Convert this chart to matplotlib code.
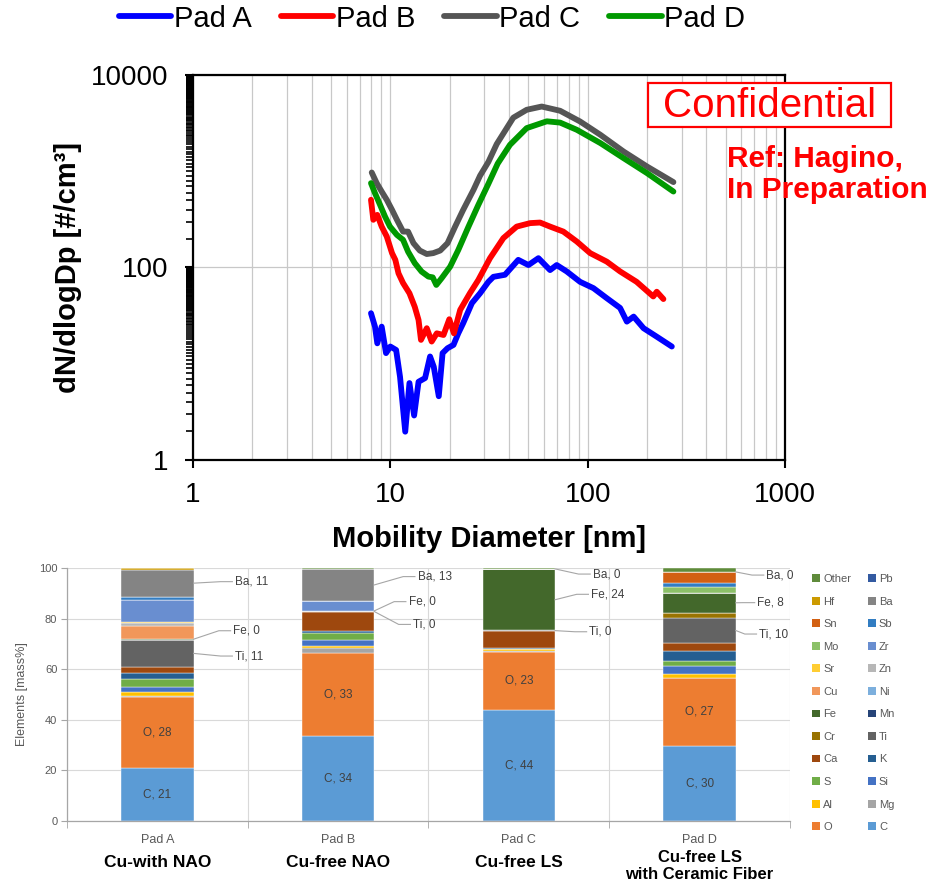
import numpy as np
import matplotlib
matplotlib.use('Agg')
import matplotlib.pyplot as plt
from matplotlib.ticker import FixedLocator, NullFormatter
from matplotlib.patches import Patch, Rectangle

plt.rcParams['font.family'] = ['Liberation Sans', 'DejaVu Sans']

# %% particle size distributions
dp_a = [7.98, 8.36, 8.59, 9.04, 9.51, 10.0, 10.7, 11.2, 11.9, 12.5, 13.2, 13.9, 15.0, 15.9,
        16.6, 17.6, 18.4, 19.5, 20.9, 22.1, 23.4, 25.9, 28.5, 31.4, 33.3, 38.1, 44.5, 50.1,
        56.3, 64.5, 69.7, 78.3, 91.5, 107, 125, 146, 158, 171, 192, 224, 267]
n_a = [33.5, 24.3, 16.3, 24.3, 12.9, 15.1, 13.9, 7.3, 1.97, 6.3, 2.9, 6.5, 7.1, 11.9,
       9.3, 4.6, 12.9, 14.5, 15.7, 20.7, 26.4, 42.6, 54, 71, 80, 84, 120, 106,
       125, 94, 106, 91, 71, 61, 48, 38, 27.4, 30.9, 23.4, 19.1, 15.1]

dp_b = [7.98, 8.20, 8.59, 9.04, 9.59, 10.2, 10.6, 11.0, 11.6, 12.5, 13.3, 13.9, 14.3, 15.3,
        16.2, 17.2, 18.6, 19.9, 21.0, 22.6, 25.3, 27.9, 32.0, 37.4, 43.7, 51.1, 57.4, 64.5,
        75.3, 88.1, 103, 125, 146, 177, 215, 224, 242]
n_b = [505, 313, 352, 266, 210, 141, 120, 87, 69, 54, 39, 28.5, 17.7, 23.4,
       17.0, 20.7, 19.9, 29.0, 20.7, 36.3, 54, 74, 125, 202, 266, 289, 293, 266,
       236, 186, 141, 115, 91, 71, 50, 56, 47]

dp_c = [8.05, 8.53, 9.04, 9.59, 10.2, 10.8, 11.6, 12.3, 13.1, 14.1, 15.3, 16.5, 17.9, 19.5,
        21.3, 23.4, 26.4, 28.5, 31.4, 34.6, 42.0, 49.1, 58.5, 72.5, 91.5, 116, 152, 200, 272]
n_c = [970, 752, 615, 505, 397, 313, 236, 236, 179, 150, 138, 141, 150, 179,
       266, 397, 641, 900, 1250, 1914, 3600, 4347, 4700, 4246, 3288, 2390, 1603, 1119, 771]

dp_d = [7.98, 8.36, 8.87, 9.40, 9.96, 10.8, 11.6, 12.3, 13.3, 14.4, 15.6, 16.4, 17.1, 18.2,
        20.1, 22.1, 24.9, 27.9, 31.4, 35.0, 40.4, 49.1, 62.1, 72.5, 88.1, 116, 152, 200, 272]
n_d = [752, 592, 448, 338, 266, 218, 194, 146, 111, 90.7, 80.4, 79, 65.9, 77.4,
       102, 152, 266, 445, 740, 1200, 1881, 2805, 3300, 3200, 2693, 1960, 1368, 955, 615]

pads = ['Pad A', 'Pad B', 'Pad C', 'Pad D']
line_colors = ['#0000FF', '#FF0000', '#555555', '#009900']

# %% composition data, mass%
elements = ['C', 'O', 'Mg', 'Al', 'Si', 'S', 'K', 'Ca', 'Ti', 'Cr', 'Mn', 'Fe',
            'Ni', 'Cu', 'Zn', 'Sr', 'Zr', 'Mo', 'Sb', 'Sn', 'Ba', 'Hf', 'Pb', 'Other']
comp_a = [21.1, 28.0, 0.5, 1.2, 2.0, 3.2, 2.6, 2.2, 10.9, 0, 0, 0.3,
          0, 5.0, 1.2, 0.5, 8.6, 0, 1.4, 0, 10.6, 0.6, 0, 0.1]
comp_b = [33.6, 32.9, 1.7, 0.9, 2.4, 2.9, 0.7, 7.6, 0.2, 0, 0, 0.3,
          0, 0, 0, 0, 3.7, 0, 0, 0, 12.8, 0, 0, 0.3]
comp_c = [43.9, 23.0, 0.3, 0.6, 0.3, 0, 0.3, 6.8, 0.1, 0, 0, 24.3,
          0, 0, 0, 0, 0, 0, 0, 0, 0.1, 0, 0, 0.3]
comp_d = [29.6, 27.0, 0, 1.7, 2.9, 2.1, 4.0, 3.2, 9.6, 2.2, 0, 7.9,
          0, 0, 0, 0, 0, 2.1, 1.8, 4.3, 0.1, 0, 0, 1.5]
pad_types = ['Cu-with NAO', 'Cu-free NAO', 'Cu-free LS', 'Cu-free LS\nwith Ceramic Fiber']

el_colors = ['#5B9BD5', '#ED7D31', '#A5A5A5', '#FFC000', '#4472C4', '#70AD47',
             '#255E91', '#9E480E', '#636363', '#997300', '#264478', '#43682B',
             '#7CAFDD', '#F1975A', '#B7B7B7', '#FFCD33', '#698ED0', '#8CC168',
             '#327DC2', '#D26012', '#848484', '#CC9A00', '#335AA1', '#5F8B3B']

# %% figure
fig = plt.figure(figsize=(9.41, 8.85), dpi=100)

# top: size distributions
ax1 = fig.add_axes([0.2051, 0.4802, 0.6291, 0.4351])
for dp, n, c, lab in zip([dp_a, dp_b, dp_c, dp_d], [n_a, n_b, n_c, n_d], line_colors, pads):
    ax1.plot(dp, n, color=c, lw=4.2, label=lab, solid_joinstyle='round',
             solid_capstyle='round', zorder=3)
ax1.set_xscale('log')
ax1.set_yscale('log')
ax1.set_xlim(1, 1000)
ax1.set_ylim(1, 10000)
ax1.set_xticks([1, 10, 100, 1000])
ax1.set_xticklabels(['1', '10', '100', '1000'])
ax1.set_yticks([1, 100, 10000])
ax1.set_yticklabels(['1', '100', '10000'])
ax1.yaxis.set_minor_locator(FixedLocator([k * 100.0 ** e for e in (0, 1) for k in range(2, 100)]))
ax1.yaxis.set_minor_formatter(NullFormatter())
ax1.xaxis.set_minor_formatter(NullFormatter())
ax1.grid(axis='x', which='both', color='#C8C8C8', lw=0.9)
ax1.grid(axis='y', which='major', color='#C8C8C8', lw=0.9)
ax1.tick_params(axis='both', which='major', labelsize=20, length=6, width=1.5, direction='out')
ax1.tick_params(axis='x', which='major', pad=10)
ax1.tick_params(axis='y', which='major', pad=12)
ax1.tick_params(axis='y', which='minor', length=5, width=1.2, direction='out')
ax1.tick_params(axis='x', which='minor', length=0)
for s in ax1.spines.values():
    s.set_linewidth(1.6)
ax1.set_ylabel('dN/dlogDp [#/cm³]', fontsize=21, fontweight='bold', labelpad=6)
ax1.set_xlabel('Mobility Diameter [nm]', fontsize=21, fontweight='bold', labelpad=12)

fig.legend(loc='center', bbox_to_anchor=(0.459, 0.979), ncol=4, frameon=False,
           fontsize=21, handlelength=1.8, handletextpad=0.08, columnspacing=1.0,
           borderpad=0)

fig.patches.append(Rectangle((648 / 941, 1 - 127 / 885), 243 / 941, 44 / 885,
                             transform=fig.transFigure, fc='white', ec='red', lw=1.6))
fig.text(769.5 / 941, 1 - 106 / 885, 'Confidential', fontsize=29, color='red',
         ha='center', va='center')
fig.text(727 / 941, 1 - 145 / 885, 'Ref: Hagino,\nIn Preparation', fontsize=21.5,
         fontweight='bold', color='red', ha='left', va='top', linespacing=1.12)

# bottom: element composition
ax2 = fig.add_axes([0.0712, 0.0723, 0.7683, 0.2859])
comp = np.array([comp_a, comp_b, comp_c, comp_d])
x = np.arange(len(pads))
bottom = np.zeros(len(pads))
for j, el in enumerate(elements):
    vals = comp[:, j]
    ax2.bar(x, vals, 0.4, bottom=bottom, color=el_colors[j], edgecolor='white',
            linewidth=0.3, zorder=2)
    if el in ('C', 'O'):
        for i in range(len(pads)):
            ax2.text(x[i], bottom[i] + vals[i] / 2, f'{el}, {round(vals[i])}',
                     ha='center', va='center', fontsize=8.5, color='#404040', zorder=4)
    bottom = bottom + vals

# outside labels with leader lines: (x offset from bar centre, y of label)
call_pos = [
    {'Ba': (0.43, 94.6), 'Fe': (0.42, 75.2), 'Ti': (0.43, 65.2)},
    {'Ba': (0.44, 96.6), 'Fe': (0.39, 86.7), 'Ti': (0.415, 77.7)},
    {'Ba': (0.41, 97.6), 'Fe': (0.40, 89.6), 'Ti': (0.39, 74.8)},
    {'Ba': (0.37, 97.2), 'Fe': (0.32, 86.3), 'Ti': (0.33, 73.9)},
]
cum = np.cumsum(comp, axis=1)
for i in range(len(pads)):
    for el, (dx, ly) in call_pos[i].items():
        j = elements.index(el)
        mid = cum[i, j] - comp[i, j] / 2
        lx = x[i] + dx
        ax2.plot([x[i] + 0.2, lx - 0.08, lx - 0.015], [mid, ly, ly], color='#A6A6A6',
                 lw=0.8, zorder=3, clip_on=False)
        ax2.text(lx, ly, f'{el}, {round(comp[i, j])}', ha='left', va='center',
                 fontsize=8.5, color='#404040', zorder=4)

ax2.set_xlim(-0.5, 3.5)
ax2.set_ylim(0, 100)
ax2.set_yticks(range(0, 101, 20))
ax2.set_xticks(x)
ax2.set_xticklabels(pads)
ax2.set_xticks([-0.5, 0.5, 1.5, 2.5, 3.5], minor=True)
ax2.grid(axis='y', color='#D9D9D9', lw=0.8, zorder=0)
ax2.grid(axis='x', which='minor', color='#D9D9D9', lw=0.8, zorder=0)
ax2.tick_params(axis='x', which='major', length=0, labelsize=9, labelcolor='#595959', pad=9)
ax2.tick_params(axis='x', which='minor', length=5, color='#A6A6A6', direction='out')
ax2.tick_params(axis='y', length=4, color='#A6A6A6', labelsize=8, labelcolor='#595959', pad=3)
for s in ('top', 'right'):
    ax2.spines[s].set_visible(False)
for s in ('left', 'bottom'):
    ax2.spines[s].set_color('#A6A6A6')
    ax2.spines[s].set_linewidth(0.9)
ax2.set_ylabel('Elements [mass%]', fontsize=9, color='#595959', labelpad=8)

for i, t in enumerate(pad_types):
    yy = -0.178 if '\n' in t else -0.162
    fs = 12 if '\n' in t else 12.5
    ax2.text(x[i], yy, t, transform=ax2.get_xaxis_transform(), ha='center', va='center',
             fontsize=fs, fontweight='bold', linespacing=1.2)

# legend: two columns, read row-wise from the top of the stack
rev = list(range(len(elements)))[::-1]
order = rev[0::2] + rev[1::2]
handles = [Patch(facecolor=el_colors[j]) for j in order]
labels = [elements[j] for j in order]
fig.legend(handles, labels, loc='upper left', bbox_to_anchor=(812 / 941, 1 - 574 / 885),
           ncol=2, frameon=False, fontsize=8, labelcolor='#595959', handlelength=0.7,
           handleheight=0.7, handletextpad=0.3, labelspacing=1.13, columnspacing=1.5,
           borderpad=0, borderaxespad=0)

fig.savefig('out.png', dpi=100)
